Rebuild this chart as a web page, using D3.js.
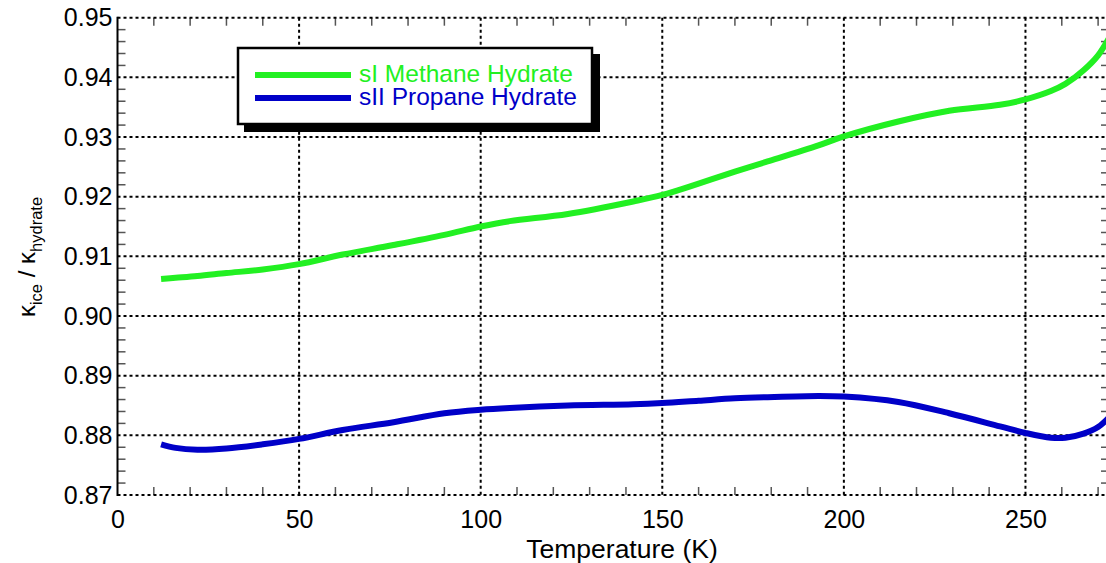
<!DOCTYPE html>
<html>
<head>
<meta charset="utf-8">
<script src="https://cdn.jsdelivr.net/npm/d3@7"></script>
<style>
  html, body { margin: 0; padding: 0; background: #fff; }
  svg { display: block; overflow: hidden; font-family: "Liberation Sans", Arial, sans-serif; }
</style>
</head>
<body>
<svg id="chart" width="1106" height="563"></svg>
<script>
// Temperature samples (K)
const temperature = [12, 16, 22, 30, 40, 50, 62, 76, 90, 100, 108, 124, 142, 150, 160, 170, 179, 193, 200, 215, 229, 243, 250, 257, 261, 266, 270, 273];
// Thermal conductivity ratio kappa_ice / kappa_hydrate
const methaneSI = [0.9062, 0.9064, 0.9067, 0.9072, 0.9078, 0.9087, 0.9103, 0.9119, 0.9136, 0.9150, 0.9159, 0.9171, 0.9192, 0.9203, 0.9222, 0.9242, 0.9259, 0.9286, 0.9301, 0.9326, 0.9344, 0.9354, 0.9363, 0.9377, 0.9389, 0.9412, 0.9437, 0.9466];
const propaneSII = [0.8785, 0.8779, 0.8776, 0.8778, 0.8785, 0.8794, 0.8809, 0.8822, 0.8837, 0.8843, 0.8846, 0.8850, 0.8852, 0.8854, 0.8858, 0.8862, 0.8864, 0.8866, 0.8865, 0.8856, 0.8837, 0.8815, 0.8804, 0.8796, 0.8796, 0.8803, 0.8814, 0.8830];

const seriesNames = ["sI Methane Hydrate", "sII Propane Hydrate"];
const seriesColors = ["#22f022", "#0000c8"];

const xTicks = [0, 50, 100, 150, 200, 250];
const yTicks = [0.87, 0.88, 0.89, 0.90, 0.91, 0.92, 0.93, 0.94, 0.95];

const svg = d3.select("#chart");
const plotL = 117.5, plotR = 1109, plotT = 17.7, plotB = 495;
const fontFam = "Liberation Sans, Arial, sans-serif";

const x = d3.scaleLinear().domain([0, 273]).range([plotL, plotR]);
const y = d3.scaleLinear().domain([0.87, 0.95]).range([plotB, plotT]);

// minor ticks (inward) on all four sides
const minorX = d3.range(10, 273, 10).filter(v => v % 50 !== 0);
const minorY = d3.range(0, 41, 1).map(i => +(0.87 + i * 0.002).toFixed(3)).filter(v => Math.round(v * 1000) % 10 !== 0);
const ticksG = svg.append("g").attr("stroke", "#555").attr("stroke-width", 1.5);
minorX.forEach(v => {
  ticksG.append("line").attr("x1", x(v)).attr("x2", x(v)).attr("y1", plotB).attr("y2", plotB - 8);
  ticksG.append("line").attr("x1", x(v)).attr("x2", x(v)).attr("y1", plotT).attr("y2", plotT + 8);
});
minorY.forEach(v => {
  ticksG.append("line").attr("x1", plotL).attr("x2", plotL + 8).attr("y1", y(v)).attr("y2", y(v));
  ticksG.append("line").attr("x1", plotR).attr("x2", plotR - 8).attr("y1", y(v)).attr("y2", y(v));
});

// dotted grid (also forms the top and bottom frame)
const grid = svg.append("g").attr("stroke", "#000").attr("stroke-width", 2).attr("stroke-dasharray", "3,3");
xTicks.filter(v => v > 0).forEach(v => {
  grid.append("line").attr("x1", x(v)).attr("x2", x(v)).attr("y1", plotT).attr("y2", plotB);
});
yTicks.forEach(v => {
  grid.append("line").attr("x1", plotL).attr("x2", plotR).attr("y1", y(v)).attr("y2", y(v));
});

// solid left frame
svg.append("line").attr("x1", plotL).attr("x2", plotL).attr("y1", plotT - 1).attr("y2", plotB + 1)
  .attr("stroke", "#000").attr("stroke-width", 2);

// tick labels via axes
const xAxis = svg.append("g").attr("transform", `translate(0,${plotB})`)
  .call(d3.axisBottom(x).tickValues(xTicks).tickSize(0).tickPadding(15).tickFormat(d3.format("d")));
xAxis.select(".domain").remove();
xAxis.selectAll("text").attr("font-size", 25).attr("fill", "#000").attr("font-family", fontFam);

const yAxis = svg.append("g").attr("transform", `translate(${plotL},0)`)
  .call(d3.axisLeft(y).tickValues(yTicks).tickSize(0).tickPadding(5).tickFormat(d3.format(".2f")));
yAxis.select(".domain").remove();
yAxis.selectAll("text").attr("font-size", 25).attr("fill", "#000").attr("font-family", fontFam);

// axis titles
svg.append("text").attr("x", 622).attr("y", 558).attr("text-anchor", "middle")
  .attr("font-size", 26.5).attr("fill", "#000").text("Temperature (K)");

const yl = svg.append("text").attr("transform", "translate(35,257) rotate(-90)")
  .attr("text-anchor", "middle").attr("font-size", 24).attr("fill", "#000");
yl.append("tspan").text("κ");
yl.append("tspan").attr("font-size", 16.5).attr("dy", 7).text("ice");
yl.append("tspan").attr("dy", -7).text(" / κ");
yl.append("tspan").attr("font-size", 16.5).attr("dy", 7).text("hydrate");

// curves
const line = d3.line().curve(d3.curveCatmullRom.alpha(0.5))
  .x(d => x(d[0])).y(d => y(d[1]));
[methaneSI, propaneSII].forEach((vals, i) => {
  svg.append("path")
    .datum(temperature.map((t, j) => [t, vals[j]]))
    .attr("fill", "none").attr("stroke", seriesColors[i]).attr("stroke-width", 6)
    .attr("stroke-linejoin", "round")
    .attr("d", line);
});

// legend with drop shadow
const lg = svg.append("g");
lg.append("rect").attr("x", 244).attr("y", 54).attr("width", 356).attr("height", 78).attr("fill", "#000");
lg.append("rect").attr("x", 238).attr("y", 48).attr("width", 354).attr("height", 76)
  .attr("fill", "#fff").attr("stroke", "#000").attr("stroke-width", 2.5);
seriesNames.forEach((name, i) => {
  const ly = 75 + i * 23;
  lg.append("line").attr("x1", 255).attr("x2", 351).attr("y1", ly).attr("y2", ly)
    .attr("stroke", seriesColors[i]).attr("stroke-width", 6);
  lg.append("text").attr("x", 359).attr("y", ly + 7).attr("font-size", 24.5)
    .attr("fill", seriesColors[i]).text(name);
});
</script>
</body>
</html>
